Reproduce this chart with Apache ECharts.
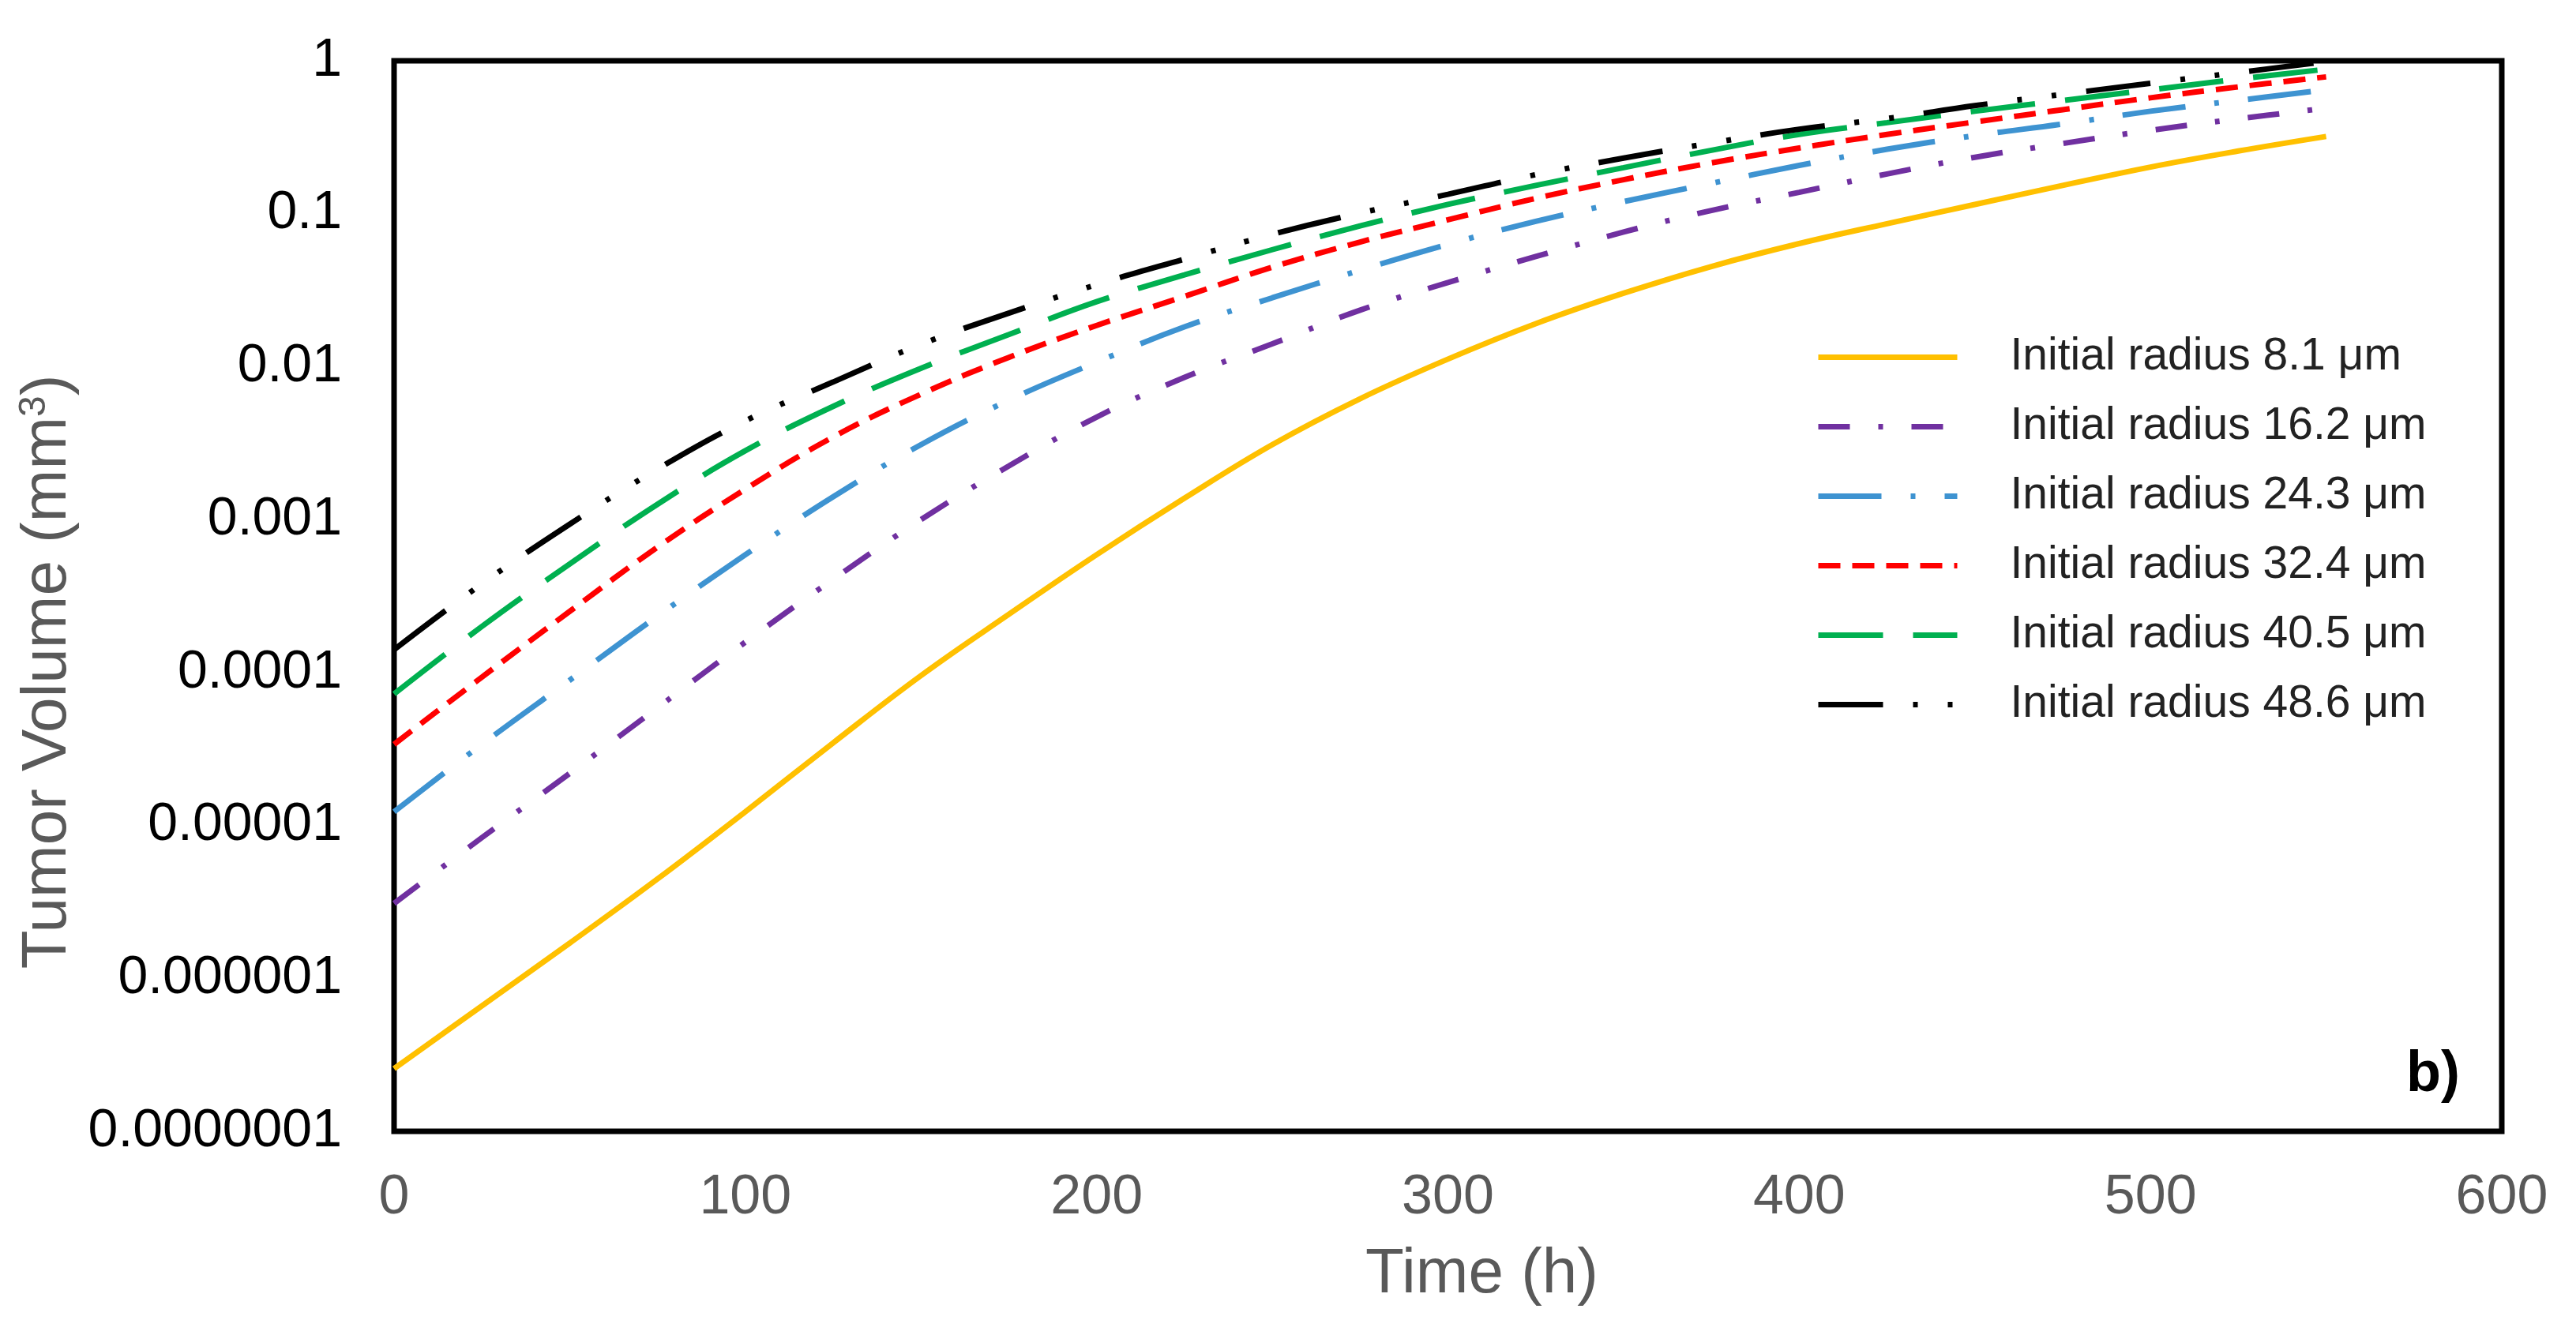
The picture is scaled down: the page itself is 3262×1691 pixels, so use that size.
<!DOCTYPE html>
<html>
<head>
<meta charset="utf-8">
<title>Tumor Volume</title>
<script src="https://cdn.jsdelivr.net/npm/echarts@6/dist/echarts.min.js"></script>
<style>
  html, body { margin: 0; padding: 0; background: #fff; }
  #chart { width: 3262px; height: 1691px; }
</style>
</head>
<body>
<div id="chart"></div>
<script>
// time (h)
var times = [0, 25, 50, 75, 100, 125, 150, 175, 200, 225, 250, 275, 300, 325, 350, 375, 400, 425, 450, 475, 500, 525, 550];

// tumor volume (mm3)
var r81 = [2.57e-7, 6.61e-7, 1.70e-6, 4.47e-6, 1.23e-5, 3.47e-5, 9.55e-5, 2.40e-4, 5.89e-4, 1.38e-3, 3.09e-3, 6.17e-3,
  1.12e-2, 1.91e-2, 3.02e-2, 4.52e-2, 6.38e-2, 8.61e-2, 0.115, 0.153, 0.202, 0.257, 0.320];
var r162 = [3.09e-6, 8.32e-6, 2.19e-5, 5.89e-5, 1.58e-4, 4.07e-4, 1.00e-3, 2.24e-3, 4.68e-3, 8.51e-3, 1.41e-2, 2.34e-2,
  3.55e-2, 5.25e-2, 7.59e-2, 0.105, 0.138, 0.182, 0.234, 0.288, 0.351, 0.417, 0.490];
var r243 = [1.23e-5, 3.39e-5, 8.91e-5, 2.34e-4, 5.89e-4, 1.41e-3, 3.09e-3, 6.03e-3, 1.07e-2, 1.82e-2, 2.82e-2, 4.27e-2,
  6.31e-2, 8.91e-2, 0.120, 0.158, 0.207, 0.264, 0.324, 0.386, 0.468, 0.551, 0.646];
var r324 = [3.39e-5, 9.33e-5, 2.51e-4, 6.61e-4, 1.58e-3, 3.47e-3, 6.61e-3, 1.15e-2, 1.86e-2, 2.88e-2, 4.47e-2, 6.53e-2,
  9.12e-2, 0.126, 0.167, 0.215, 0.269, 0.330, 0.398, 0.479, 0.573, 0.675, 0.785];
var r405 = [7.24e-5, 2.00e-4, 5.13e-4, 1.26e-3, 2.82e-3, 5.50e-3, 9.77e-3, 1.62e-2, 2.66e-2, 3.98e-2, 5.82e-2, 8.32e-2,
  0.115, 0.153, 0.200, 0.260, 0.330, 0.394, 0.468, 0.550, 0.646, 0.759, 0.881];
var r486 = [1.41e-4, 3.80e-4, 9.33e-4, 2.14e-3, 4.42e-3, 7.94e-3, 1.40e-2, 2.24e-2, 3.44e-2, 5.05e-2, 7.33e-2, 0.101,
  0.134, 0.180, 0.231, 0.290, 0.357, 0.419, 0.509, 0.604, 0.713, 0.838, 0.989];

var seriesNames = ['Initial radius 8.1 μm', 'Initial radius 16.2 μm', 'Initial radius 24.3 μm',
  'Initial radius 32.4 μm', 'Initial radius 40.5 μm', 'Initial radius 48.6 μm'];
var seriesValues = [r81, r162, r243, r324, r405, r486];
var seriesColors = ['#FFC000', '#7030A0', '#3E93D1', '#FF0000', '#00B050', '#000000'];
var seriesDash = ['solid', [40, 36, 6, 36], [80, 37, 6, 37], [28, 15], [82, 38], [82, 38, 6, 38, 6, 38]];

var yTickLabels = ['0.0000001', '0.000001', '0.00001', '0.0001', '0.001', '0.01', '0.1', '1'];
var xTicks = [0, 100, 200, 300, 400, 500, 600];

var FONT = "'Liberation Sans', Arial, sans-serif";

function pairs(vals) {
  var out = [];
  for (var i = 0; i < times.length; i++) {
    out.push([times[i], vals[i]]);
  }
  return out;
}

var series = [];
for (var i = 0; i < seriesNames.length; i++) {
  series.push({
    name: seriesNames[i],
    type: 'line',
    smooth: 0.4,
    symbol: 'none',
    data: pairs(seriesValues[i]),
    lineStyle: {
      color: seriesColors[i],
      width: 7,
      type: seriesDash[i],
      cap: 'butt'
    },
    itemStyle: { color: seriesColors[i] }
  });
}

var chart = echarts.init(document.getElementById('chart'));

var option = {
  backgroundColor: '#fff',
  animation: false,
  grid: {
    left: 499,
    right: 94,
    top: 77,
    bottom: 258,
    show: true,
    borderColor: '#000',
    borderWidth: 7,
    backgroundColor: 'transparent'
  },
  legend: {
    orient: 'vertical',
    left: 2294,
    top: 419,
    itemWidth: 176,
    itemHeight: 40,
    itemGap: 31,
    data: seriesNames,
    itemStyle: { opacity: 0 },
    lineStyle: { width: 7, cap: 'butt' },
    formatter: function (name) { return '{a|' + name + '}'; },
    textStyle: {
      fontFamily: FONT,
      rich: {
        a: {
          fontFamily: FONT,
          fontSize: 57,
          lineHeight: 60,
          color: '#222',
          padding: [0, 0, 0, 62]
        }
      }
    }
  },
  xAxis: {
    type: 'value',
    min: 0,
    max: 600,
    interval: 100,
    name: 'Time (h)',
    nameLocation: 'middle',
    nameGap: 142,
    nameTextStyle: {
      fontFamily: FONT,
      fontSize: 80,
      color: '#595959',
      padding: [0, 0, 0, 86]
    },
    axisLine: { show: false },
    axisTick: { show: false },
    splitLine: { show: false },
    axisLabel: {
      fontFamily: FONT,
      fontSize: 70,
      color: '#595959',
      margin: 50,
      formatter: function (v) {
        return xTicks.indexOf(v) >= 0 ? String(v) : '';
      }
    }
  },
  yAxis: {
    type: 'log',
    logBase: 10,
    min: 1e-7,
    max: 1,
    interval: 1,
    name: '{a|Tumor Volume (mm}{s|3}{a|)}',
    nameLocation: 'middle',
    nameGap: 376,
    nameRotate: 90,
    nameTextStyle: {
      fontFamily: FONT,
      color: '#595959',
      padding: [0, 192, 0, 0],
      rich: {
        a: { fontFamily: FONT, fontSize: 80, color: '#595959' },
        s: { fontFamily: FONT, fontSize: 48, color: '#595959', verticalAlign: 'top', padding: [0, 0, 34, 0] }
      }
    },
    axisLine: { show: false },
    axisTick: { show: false },
    splitLine: { show: false },
    axisLabel: {
      fontFamily: FONT,
      fontSize: 68,
      color: '#000',
      margin: 66,
      formatter: function (v) {
        var k = Math.round(Math.log(v) / Math.LN10) + 7;
        return yTickLabels[k] || '';
      }
    }
  },
  graphic: [{
    type: 'text',
    left: 3047,
    top: 1326,
    style: {
      text: 'b)',
      fontFamily: FONT,
      fontSize: 72,
      fontWeight: 'bold',
      fill: '#000'
    }
  }],
  series: series
};

chart.setOption(option);
</script>
</body>
</html>
